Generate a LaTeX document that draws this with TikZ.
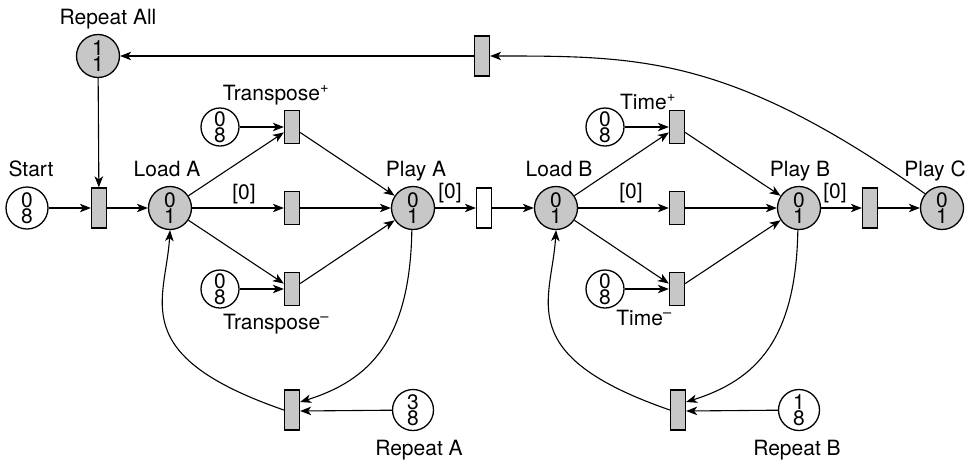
\documentclass[tikz,border=0pt]{standalone}
\usepackage{fontspec}
\setmainfont{TeX Gyre Heros}
\usetikzlibrary{arrows.meta}
\definecolor{pgray}{gray}{0.78}
\newcommand{\labfont}{\fontsize{21}{23}\selectfont}
\newcommand{\tokfont}{\fontsize{21}{16.5}\selectfont}
\tikzset{
  place/.style={circle, draw, line width=1.3pt, minimum size=43pt, inner sep=0pt,
                align=center, font=\tokfont, fill=white},
  marked/.style={place, fill=pgray},
  srcplace/.style={place, minimum size=38pt},
  trans/.style={rectangle, draw, line width=1.3pt, fill=pgray,
                minimum width=15pt, minimum height=40pt, inner sep=0pt},
  smalltrans/.style={trans, minimum height=33pt},
  arc/.style={-{Stealth[length=11pt,width=8.5pt,inset=3pt]}, line width=1.1pt},
  lbl/.style={font=\labfont, inner sep=0pt, anchor=base}
}
\begin{document}
\begin{tikzpicture}[x=1pt,y=1pt]
\useasboundingbox (0,0) rectangle (965,-461);

% ---- places ----
\node[marked]   (rall)  at (98,-56)   {1\\1};
\node[place, minimum size=42pt] (start) at (27,-208) {0\\8};
\node[marked]   (loadA) at (170,-208) {0\\1};
\node[marked]   (playA) at (413,-208) {0\\1};
\node[marked]   (loadB) at (556,-208) {0\\1};
\node[marked]   (playB) at (799,-208) {0\\1};
\node[marked]   (playC) at (942,-208) {0\\1};
\node[srcplace] (tpsrc) at (220,-127) {0\\8};
\node[srcplace] (tmsrc) at (220,-289) {0\\8};
\node[srcplace] (tisrcp) at (605,-127) {0\\8};
\node[srcplace] (tisrcm) at (605,-289) {0\\8};
\node[place, minimum size=41pt] (repA) at (413,-410) {3\\8};
\node[place, minimum size=41pt] (repB) at (799,-410) {1\\8};

% ---- transitions ----
\node[trans]      (tstart) at (99,-208)  {};
\node[smalltrans] (ttp)    at (292,-127) {};
\node[smalltrans] (tA0)    at (292,-208) {};
\node[smalltrans] (ttm)    at (292,-289) {};
\node[trans, fill=white] (tAB) at (484,-208) {};
\node[smalltrans] (ttip)   at (677,-127) {};
\node[smalltrans] (tB0)    at (677,-208) {};
\node[smalltrans] (ttim)   at (677,-289) {};
\node[trans]      (tBC)    at (870,-208) {};
\node[trans]      (ttop)   at (482,-56)  {};
\node[trans]      (trA)    at (292,-410) {};
\node[trans]      (trB)    at (678,-410) {};

% ---- labels ----
\node[lbl] at (108,-24)  {Repeat All};
\node[lbl] at (31,-176)  {Start};
\node[lbl] at (167,-176) {Load A};
\node[lbl] at (276,-100) {Transpose\textsuperscript{+}};
\node[lbl] at (276,-329) {Transpose\textsuperscript{–}};
\node[lbl] at (244,-199) {[0]};
\node[lbl] at (416,-176) {Play A};
\node[lbl] at (450,-198) {[0]};
\node[lbl] at (559,-176) {Load B};
\node[lbl] at (648,-109) {Time\textsuperscript{+}};
\node[lbl] at (644,-325) {Time\textsuperscript{–}};
\node[lbl] at (631,-198) {[0]};
\node[lbl] at (800,-176) {Play B};
\node[lbl] at (835,-198) {[0]};
\node[lbl] at (935,-176) {Play C};
\node[lbl] at (419,-455) {Repeat A};
\node[lbl] at (797,-455) {Repeat B};

% ---- arcs: main line ----
\draw[arc] (start) -- (tstart);
\draw[arc] (rall) -- (tstart);
\draw[arc] (tstart) -- (loadA);
\draw[arc] (loadA) -- (ttp);
\draw[arc] (loadA) -- (tA0);
\draw[arc] (loadA) -- (ttm);
\draw[arc] (tpsrc) -- (ttp);
\draw[arc] (tmsrc) -- (ttm);
\draw[arc] (ttp) -- (playA);
\draw[arc] (tA0) -- (playA);
\draw[arc] (ttm) -- (playA);
\draw[arc] (playA) -- (tAB);
\draw[arc] (tAB) -- (loadB);
\draw[arc] (loadB) -- (ttip);
\draw[arc] (loadB) -- (tB0);
\draw[arc] (loadB) -- (ttim);
\draw[arc] (tisrcp) -- (ttip);
\draw[arc] (tisrcm) -- (ttim);
\draw[arc] (ttip) -- (playB);
\draw[arc] (tB0) -- (playB);
\draw[arc] (ttim) -- (playB);
\draw[arc] (playB) -- (tBC);
\draw[arc] (tBC) -- (playC);

% ---- arcs: repeat loops ----
\draw[arc] (playC.140) .. controls (730,-56) and (640,-56) .. (ttop.east);
\draw[arc] (ttop) -- (rall);

\draw[arc] (playA.-93) .. controls (410,-340) and (370,-380) .. ([yshift=8pt]trA.east);
\draw[arc] (repA) -- ([yshift=-1pt]trA.east);
\draw[arc] (trA.west) .. controls (125,-355) and (166,-300) .. (loadA.south);

\draw[arc] (playB.-93) .. controls (796,-340) and (756,-380) .. ([yshift=8pt]trB.east);
\draw[arc] (repB) -- ([yshift=-1pt]trB.east);
\draw[arc] (trB.west) .. controls (511,-355) and (552,-300) .. (loadB.south);
\end{tikzpicture}
\end{document}
